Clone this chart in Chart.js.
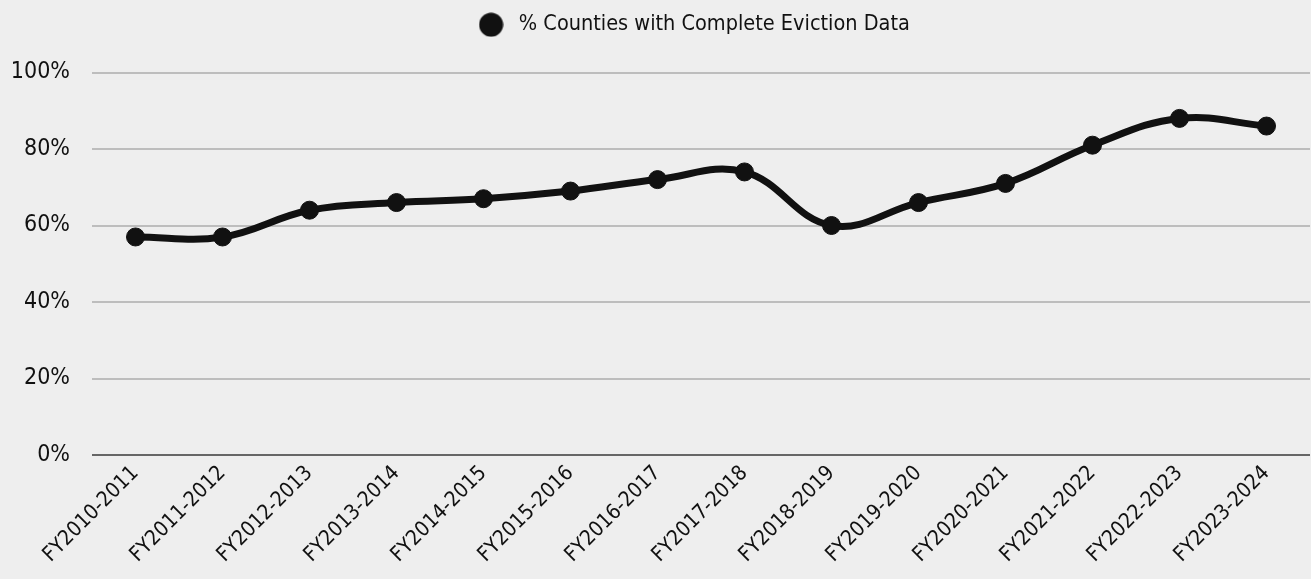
<!DOCTYPE html>
<html>
<head>
<meta charset="utf-8">
<script src="https://cdn.jsdelivr.net/npm/chart.js@4/dist/chart.umd.min.js"></script>
<style>
  html, body { margin: 0; padding: 0; background: #eeeeee; overflow: hidden; }
  #wrap { width: 1311px; height: 579px; position: relative; }
  #c { display: block; }
</style>
</head>
<body>
<div id="wrap"><canvas id="c"></canvas></div>
<script>
// Fiscal years shown on the x axis
const categories = [
  "FY2010-2011", "FY2011-2012", "FY2012-2013", "FY2013-2014", "FY2014-2015",
  "FY2015-2016", "FY2016-2017", "FY2017-2018", "FY2018-2019", "FY2019-2020",
  "FY2020-2021", "FY2021-2022", "FY2022-2023", "FY2023-2024"
];
// Share of counties reporting complete eviction data (percent)
const completeShare = [57, 57, 64, 66, 67, 69, 72, 74, 60, 66, 71, 81, 88, 86];
const seriesLabel = "% Counties with Complete Eviction Data";
const yTicks = [0, 20, 40, 60, 80, 100];

const FONT = "'Liberation Sans Narrow', 'DejaVu Sans Condensed', 'Roboto', sans-serif";
const INK = "#111111";

// Solid disc used as the legend marker
const legendDot = document.createElement("canvas");
legendDot.width = 25;
legendDot.height = 25;
(function () {
  const g = legendDot.getContext("2d");
  g.fillStyle = INK;
  g.beginPath();
  g.arc(12.5, 12.5, 12, 0, Math.PI * 2);
  g.fill();
})();

const bgPlugin = {
  id: "bg",
  beforeDraw(chart) {
    const ctx = chart.ctx;
    ctx.save();
    ctx.fillStyle = "#eeeeee";
    ctx.fillRect(0, 0, chart.width, chart.height);
    ctx.restore();
  }
};

// Extra room below the legend, and legend centred over the plot area
const legendPlacement = {
  id: "legendPlacement",
  beforeInit(chart) {
    const origFit = chart.legend.fit;
    chart.legend.fit = function () {
      origFit.call(this);
      this.height += 27;
    };
  },
  afterLayout(chart) {
    chart.legend.left = chart.chartArea.left - 18;
    chart.legend.right = chart.chartArea.right;
  }
};

new Chart(document.getElementById("c"), {
  type: "line",
  data: {
    labels: categories,
    datasets: [{
      label: seriesLabel,
      data: completeShare,
      borderColor: INK,
      backgroundColor: INK,
      pointBackgroundColor: INK,
      pointBorderColor: INK,
      borderWidth: 7,
      pointRadius: 9,
      pointBorderWidth: 1,
      pointHoverRadius: 9,
      tension: 0.4,
      fill: false
    }]
  },
  plugins: [bgPlugin, legendPlacement],
  options: {
    responsive: true,
    maintainAspectRatio: false,
    animation: false,
    layout: { autoPadding: false, padding: { left: 0, right: 1, top: 0, bottom: 0 } },
    plugins: {
      tooltip: { enabled: false },
      legend: {
        position: "top",
        labels: {
          usePointStyle: true,
          pointStyle: legendDot,
          pointStyleWidth: 34,
          boxHeight: 22,
          padding: 14,
          color: INK,
          font: { family: FONT, size: 21.5 }
        }
      }
    },
    scales: {
      x: {
        offset: true,
        afterFit(scale) {
          scale.height = 124;
          scale.paddingLeft = 0;
          scale.paddingRight = 0;
        },
        grid: { display: false, drawTicks: false },
        border: { display: false },
        ticks: {
          color: INK,
          font: { family: FONT, size: 21 },
          maxRotation: 45,
          minRotation: 45,
          padding: 6,
          autoSkip: false
        }
      },
      y: {
        min: 0,
        max: 100,
        afterFit(scale) { scale.width = 92; },
        afterBuildTicks(axis) {
          axis.ticks = yTicks.map(v => ({ value: v }));
        },
        grid: {
          drawTicks: false,
          lineWidth: 2,
          color: ctx => (ctx.tick && ctx.tick.value === 0 ? "#666666" : "#bdbdbd")
        },
        border: { display: false },
        ticks: {
          color: INK,
          font: { family: FONT, size: 23 },
          padding: 22,
          callback: v => v + "%"
        }
      }
    }
  }
});
</script>
</body>
</html>
